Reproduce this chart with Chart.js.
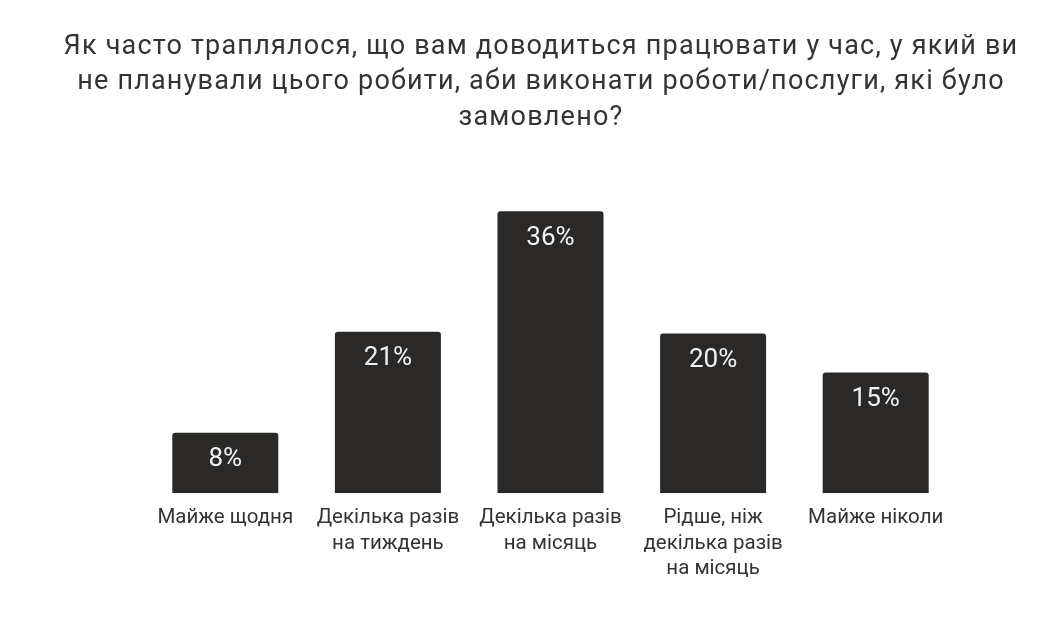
<!DOCTYPE html>
<html>
<head>
<meta charset="utf-8">
<script src="https://cdn.jsdelivr.net/npm/chart.js@4"></script>
<style>
  html, body { margin: 0; padding: 0; background: #fff; }
  #wrap { width: 1064px; height: 622px; }
</style>
</head>
<body>
<div id="wrap"><canvas id="chart"></canvas></div>
<script>
const TITLE = [
  "Як часто траплялося, що вам доводиться працювати у час, у який ви",
  "не планували цього робити, аби виконати роботи/послуги, які було",
  "замовлено?",
]
const CATEGORIES = [
  ["Майже щодня"],
  ["Декілька разів", "на тиждень"],
  ["Декілька разів", "на місяць"],
  ["Рідше, ніж", "декілька разів", "на місяць"],
  ["Майже ніколи"],
]
// bar heights (labels show rounded percents)
const SHARES = [7.7, 20.6, 36, 20.4, 15.4]
const VALUE_LABELS = ["8%", "21%", "36%", "20%", "15%"]

const BAR_COLOR  = "#2b2927"
const TEXT_COLOR = "#333333"

// title spans the whole canvas, not only the plot area
const pageTitle = {
  id: "pageTitle",
  afterDraw(chart) {
    const { ctx } = chart
    ctx.save()
    ctx.fillStyle = TEXT_COLOR
    ctx.font = "27px Roboto"
    ctx.letterSpacing = "1.2px"
    ctx.textAlign = "center"
    ctx.textBaseline = "middle"
    TITLE.forEach((line, i) => ctx.fillText(line, 541, 47 + i * 35.5))
    ctx.restore()
  },
}

// white percent label just inside the top of each bar
const valueLabels = {
  id: "valueLabels",
  afterDatasetsDraw(chart) {
    const { ctx } = chart
    const meta = chart.getDatasetMeta(0)
    ctx.save()
    ctx.fillStyle = "#f2f2f2"
    ctx.font = "26px Roboto"
    ctx.textAlign = "center"
    ctx.textBaseline = "middle"
    meta.data.forEach((bar, i) => {
      ctx.fillText(VALUE_LABELS[i], bar.x, bar.y + 27)
    })
    ctx.restore()
  },
}

new Chart(document.getElementById("chart"), {
  type: "bar",
  data: {
    labels: CATEGORIES,
    datasets: [{
      data: SHARES,
      backgroundColor: BAR_COLOR,
      borderRadius: 3,
      borderSkipped: "bottom",
      barPercentage: 0.652,
      categoryPercentage: 1,
    }],
  },
  options: {
    responsive: true,
    maintainAspectRatio: false,
    animation: false,
    layout: { padding: { left: 144, right: 107, top: 180, bottom: 28 } },
    scales: {
      x: {
        grid: { display: false, drawTicks: false },
        border: { display: false },
        ticks: {
          color: TEXT_COLOR,
          font: { family: "Roboto", size: 20.5, lineHeight: 1.25 },
          padding: 12,
          maxRotation: 0,
          autoSkip: false,
        },
      },
      y: { display: false, min: 0, max: 40 },
    },
    plugins: {
      legend: { display: false },
      tooltip: { enabled: false },
      title: { display: false },
    },
  },
  plugins: [valueLabels, pageTitle],
})
</script>
</body>
</html>
